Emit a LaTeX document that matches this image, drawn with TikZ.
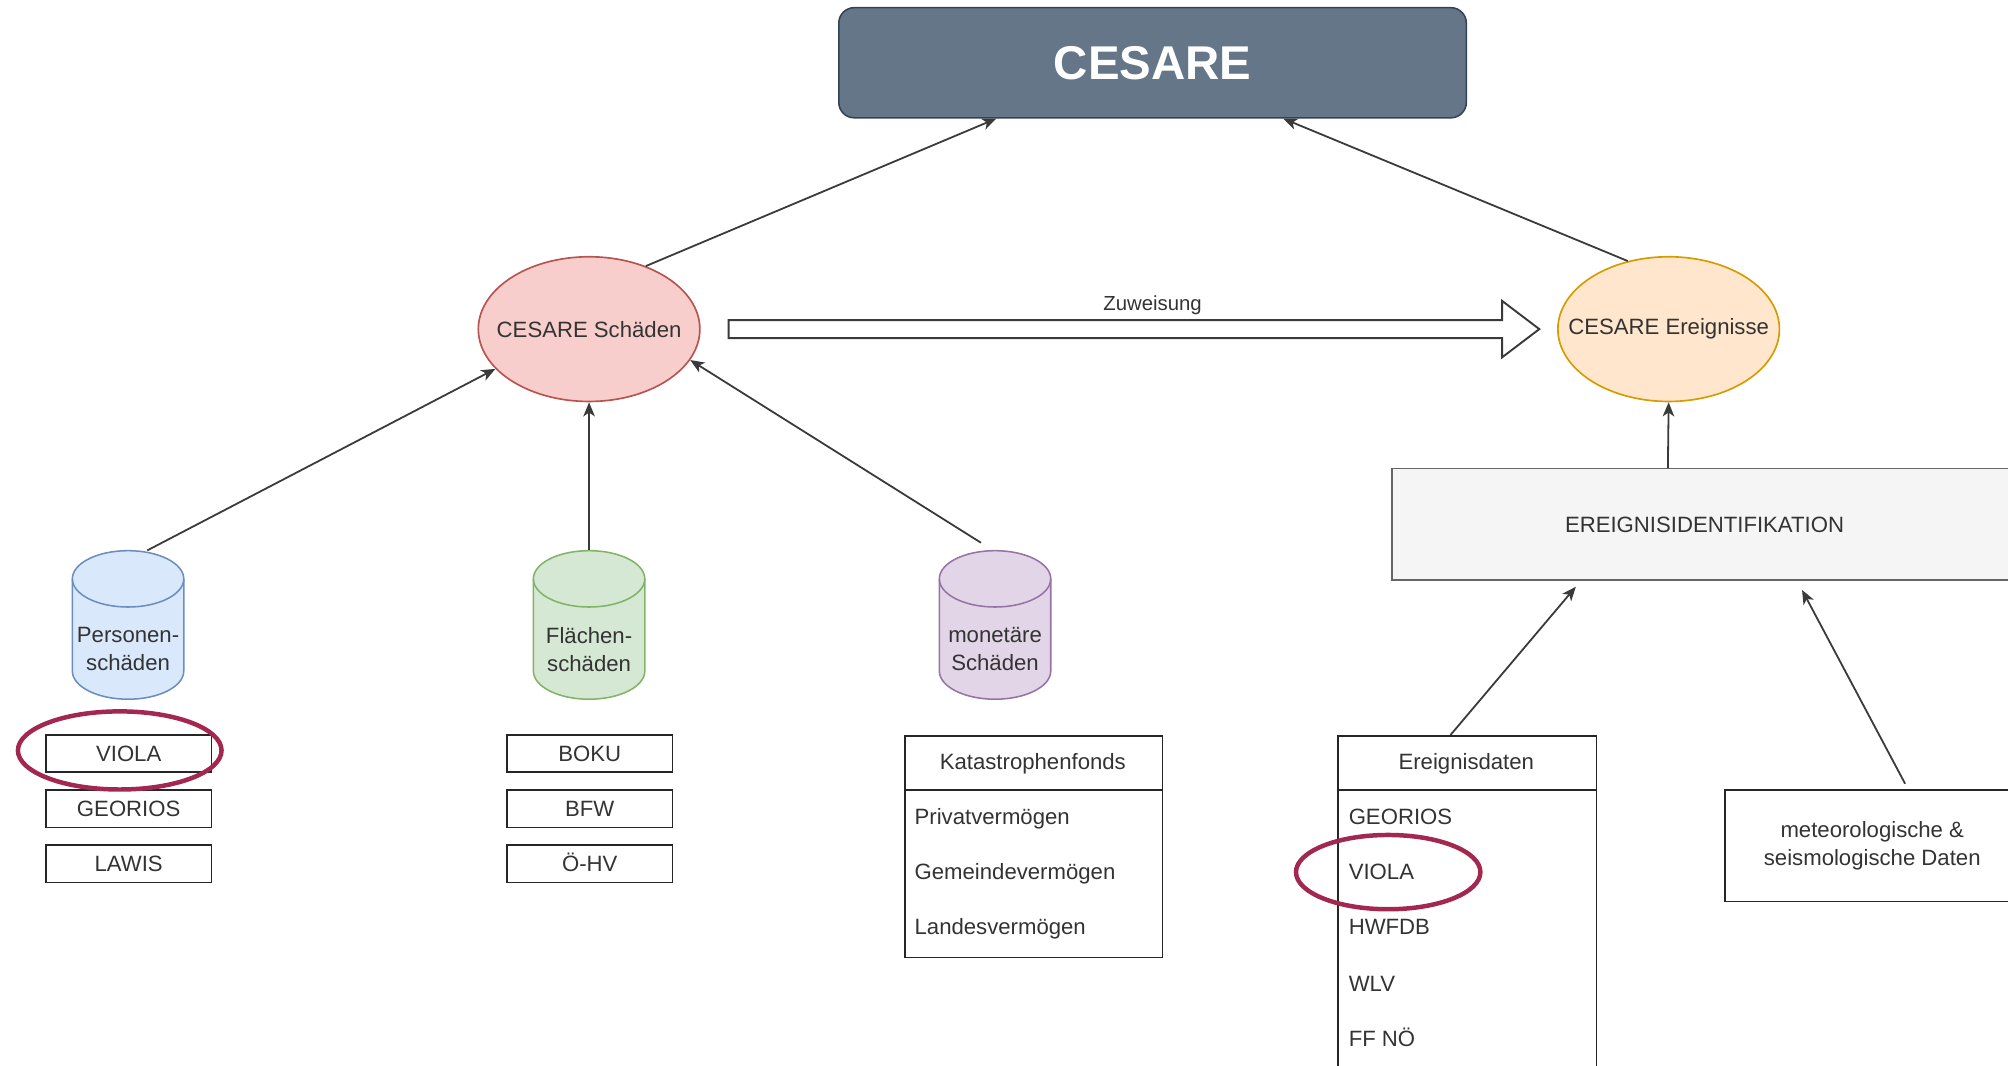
\documentclass[tikz,border=0pt]{standalone}
\usepackage{fontspec}
\setmainfont{Liberation Sans}
\usetikzlibrary{arrows.meta,calc,shapes.geometric}
\definecolor{txtc}{HTML}{333333}
\definecolor{lnc}{HTML}{3A3A3A}
\definecolor{cesfill}{HTML}{647687}
\definecolor{cesline}{HTML}{314354}
\definecolor{redfill}{HTML}{F8CECC}
\definecolor{redline}{HTML}{B85450}
\definecolor{orfill}{HTML}{FFE6CC}
\definecolor{orline}{HTML}{D79B00}
\definecolor{blfill}{HTML}{DAE8FC}
\definecolor{blline}{HTML}{6C8EBF}
\definecolor{grfill}{HTML}{D5E8D4}
\definecolor{grline}{HTML}{82B366}
\definecolor{pufill}{HTML}{E1D5E7}
\definecolor{puline}{HTML}{9673A6}
\definecolor{gyfill}{HTML}{F5F5F5}
\definecolor{gyline}{HTML}{666666}
\definecolor{hlc}{HTML}{A3284F}
\newcommand\mycyl[3]{%
  \path[fill=#2, draw=#3, line width=1.2pt] (#1-43.5,-452) -- (#1-43.5,-524)
    arc[start angle=180,end angle=360,x radius=43.5pt,y radius=22pt] -- (#1+43.5,-452)
    arc[start angle=0,end angle=180,x radius=43.5pt,y radius=22pt] -- cycle;
  \draw[#3, line width=1.2pt] (#1-43.5,-452) arc[start angle=180,end angle=360,x radius=43.5pt,y radius=22pt];}
\begin{document}
\begin{tikzpicture}[x=1pt,y=1pt,
  font=\fontsize{17.3}{22}\selectfont, text=txtc,
  arr/.style={draw=lnc, line width=1.4pt, -{Stealth[length=11pt,width=9pt,inset=3pt]}},
  ell/.style={ellipse, line width=1.3pt, minimum width=173pt, minimum height=113pt, inner sep=0pt},
  srcbox/.style={draw=black!85, line width=1.2pt, minimum width=129pt, minimum height=29pt, inner sep=0pt, text height=12.4pt, text depth=0pt},
  cylarea/.style={minimum width=87pt, minimum height=116pt, inner sep=0pt},
  item/.style={anchor=base west, inner sep=0pt},
  hl/.style={draw=hlc, line width=3.5pt, ellipse, inner sep=0pt}]
\useasboundingbox (0,0) rectangle (1568,-832);

% top box
\node[draw=cesline, fill=cesfill, line width=1.2pt, rounded corners=12pt, minimum width=490pt, minimum height=86pt,
  text=white, font=\bfseries\fontsize{37}{44}\selectfont] (ces) at (900,-49) {CESARE};

% ellipses
\node[ell, draw=redline, fill=redfill] (sch) at (460,-257) {};
\node (scht) at (sch.center) {CESARE Schäden};
\node[ell, draw=orline, fill=orfill] (ere) at (1303,-257) {};
\node (eret) at (ere.center) {CESARE Ereignisse};

% block arrow Zuweisung
\draw[draw=lnc, line width=1.5pt, fill=white, line join=miter]
  (569,-250) -- (1173,-250) -- (1173,-235) -- (1202,-257) -- (1173,-279) -- (1173,-264) -- (569,-264) -- cycle;
\node[font=\fontsize{15.9}{19}\selectfont] (zuw) at (900,-238) {Zuweisung};

% cylinders
\mycyl{100}{blfill}{blline}
\mycyl{460}{grfill}{grline}
\mycyl{777}{pufill}{puline}
\node[cylarea] (pers) at (100,-488) {};
\node[cylarea] (flae) at (460,-488) {};
\node[cylarea] (mon) at (777,-488) {};
\node[align=center] (perst) at (100,-507) {Personen-\\schäden};
\node[align=center] (flaet) at (460,-507) {Flächen-\\schäden};
\node[align=center] (mont) at (777,-507) {monetäre\\Schäden};

% source boxes
\node[srcbox] (v1) at (100.5,-588.5) {VIOLA};
\node[srcbox] (g1) at (100.5,-631.5) {GEORIOS};
\node[srcbox] (l1) at (100.5,-674.5) {LAWIS};
\node[srcbox] (boku) at (460.5,-588.5) {BOKU};
\node[srcbox] (bfw) at (460.5,-631.5) {BFW};
\node[srcbox] (ohv) at (460.5,-674.5) {Ö-HV};

% Katastrophenfonds
\node[draw=black!85, line width=1.2pt, minimum width=201pt, minimum height=173pt, inner sep=0pt, anchor=north west] (kat) at (706,-574) {};
\draw[black!85, line width=1.2pt] ($(kat.north west)+(0,-43)$) -- ($(kat.north east)+(0,-43)$);
\node[text height=12.4pt, text depth=0pt, inner sep=0pt] (katt) at (806.5,-595) {Katastrophenfonds};
\node[item] (kat1) at (714,-644) {Privatvermögen};
\node[item] (kat2) at (714,-687) {Gemeindevermögen};
\node[item] (kat3) at (714,-730) {Landesvermögen};

% Ereignisidentifikation
\node[draw=gyline, fill=gyfill, line width=1.2pt, minimum width=488pt, minimum height=87pt, inner sep=0pt] (eid) at (1331,-409.5) {EREIGNISIDENTIFIKATION};

% Ereignisdaten
\node[draw=black!85, line width=1.2pt, minimum width=202pt, minimum height=280pt, inner sep=0pt, anchor=north west] (ed) at (1044,-574) {};
\draw[black!85, line width=1.2pt] ($(ed.north west)+(0,-43)$) -- ($(ed.north east)+(0,-43)$);
\node[text height=12.4pt, text depth=0pt, inner sep=0pt] (edt) at (1145,-595) {Ereignisdaten};
\node[item] (ed1) at (1053,-644) {GEORIOS};
\node[item] (ed2) at (1053,-687) {VIOLA};
\node[item] (ed3) at (1053,-730) {HWFDB};
\node[item] (ed4) at (1053,-774) {WLV};
\node[item] (ed5) at (1053,-817) {FF NÖ};

% meteo
\node[draw=black!85, line width=1.2pt, minimum width=230pt, minimum height=87pt, inner sep=0pt, align=center] (met) at (1462,-660.5) {meteorologische \&\\seismologische Daten};

% highlight ellipses
\node[hl, minimum width=159pt, minimum height=61pt] (hl1) at (93.5,-586) {};
\node[hl, minimum width=144pt, minimum height=58pt] (hl2) at (1084,-681) {};

% connectors
\draw[arr] (sch.48) -- ($(ces.south)+(-122,0)$);
\draw[arr] (ere.121) -- ($(ces.south)+(102,0)$);
\draw[arr] ($(pers.north)+(15,0)$) -- (sch.203);
\draw[arr] (flae.north) -- (sch.south);
\draw[arr] ($(mon.north)+(-11,6)$) -- (sch.-17);
\draw[arr] ($(eid.north west)+(216,0)$) -- (ere.south);
\draw[arr, shorten >=6pt] ($(ed.north)+(-13,0)$) -- ($(eid.south west)+(148,0)$);
\draw[arr, shorten <=5pt, shorten >=8pt] ($(met.north)+(28,0)$) -- ($(eid.south west)+(317,0)$);
\end{tikzpicture}
\end{document}
